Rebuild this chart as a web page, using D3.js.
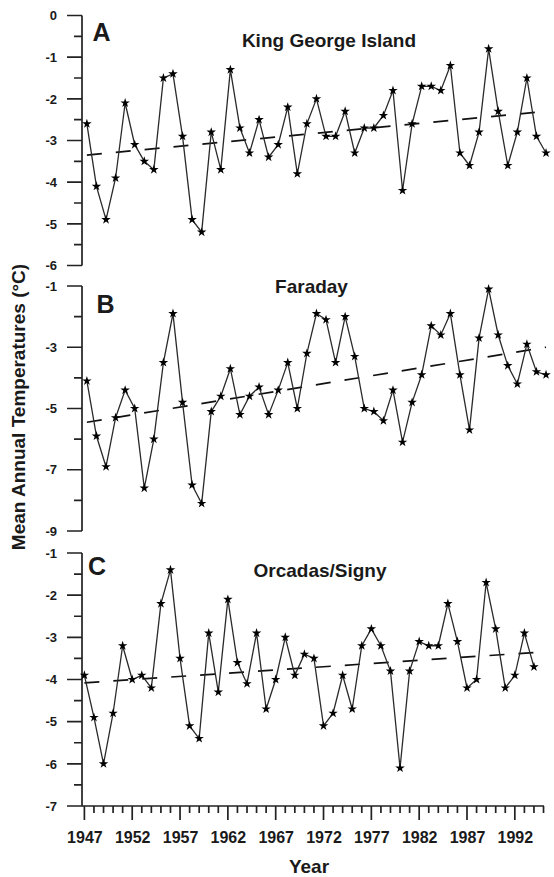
<!DOCTYPE html>
<html>
<head>
<meta charset="utf-8">
<script src="https://cdn.jsdelivr.net/npm/d3@7"></script>
<style>
  body { margin: 0; background: #fff; }
  svg text { font-family: "Liberation Sans", Arial, sans-serif; font-weight: bold; fill: #1a1a1a; }
</style>
</head>
<body>
<div id="chart"></div>
<script>
// first year of every series
const startYear = 1947;

// A - King George Island, mean annual temperature (°C)
const kingGeorge = [-2.6, -4.1, -4.9, -3.9, -2.1, -3.1, -3.5, -3.7, -1.5, -1.4,
  -2.9, -4.9, -5.2, -2.8, -3.7, -1.3, -2.7, -3.3, -2.5, -3.4,
  -3.1, -2.2, -3.8, -2.6, -2.0, -2.9, -2.9, -2.3, -3.3, -2.7,
  -2.7, -2.4, -1.8, -4.2, -2.6, -1.7, -1.7, -1.8, -1.2, -3.3,
  -3.6, -2.8, -0.8, -2.3, -3.6, -2.8, -1.5, -2.9, -3.3];

// B - Faraday
const faraday = [-4.1, -5.9, -6.9, -5.3, -4.4, -5.0, -7.6, -6.0, -3.5, -1.9,
  -4.8, -7.5, -8.1, -5.1, -4.6, -3.7, -5.2, -4.6, -4.3, -5.2,
  -4.4, -3.5, -5.0, -3.2, -1.9, -2.1, -3.5, -2.0, -3.3, -5.0,
  -5.1, -5.4, -4.4, -6.1, -4.8, -3.9, -2.3, -2.6, -1.9, -3.9,
  -5.7, -2.7, -1.1, -2.6, -3.6, -4.2, -2.9, -3.8, -3.9];

// C - Orcadas/Signy
const orcadas = [-3.9, -4.9, -6.0, -4.8, -3.2, -4.0, -3.9, -4.2, -2.2, -1.4,
  -3.5, -5.1, -5.4, -2.9, -4.3, -2.1, -3.6, -4.1, -2.9, -4.7,
  -4.0, -3.0, -3.9, -3.4, -3.5, -5.1, -4.8, -3.9, -4.7, -3.2,
  -2.8, -3.2, -3.8, -6.1, -3.8, -3.1, -3.2, -3.2, -2.2, -3.1,
  -4.2, -4.0, -1.7, -2.8, -4.2, -3.9, -2.9, -3.7];

// linear trend end points [year, value]
const trendKingGeorge = [[1947, -3.35], [1995, -2.3]];
const trendFaraday = [[1947, -5.45], [1995, -3.0]];
const trendOrcadas = [[1947, -4.08], [1994, -3.36]];

// tick labels
const yearTicks = [1947, 1952, 1957, 1962, 1967, 1972, 1977, 1982, 1987, 1992];
const yearMinor = [1948, 1949, 1950, 1951, 1953, 1954, 1955, 1956, 1958, 1959, 1960, 1961,
  1963, 1964, 1965, 1966, 1968, 1969, 1970, 1971, 1973, 1974, 1975, 1976, 1978, 1979, 1980, 1981,
  1983, 1984, 1985, 1986, 1988, 1989, 1990, 1991, 1993, 1994, 1995];
const ticksA = [0, -1, -2, -3, -4, -5, -6];
const minorA = [-0.5, -1.5, -2.5, -3.5, -4.5, -5.5];
const ticksB = [-1, -3, -5, -7, -9];
const minorB = [-2, -4, -6, -8];
const ticksC = [-1, -2, -3, -4, -5, -6, -7];
const minorC = [-1.5, -2.5, -3.5, -4.5, -5.5, -6.5];

const width = 554, height = 877;
const axisColor = '#222';

const svg = d3.select('#chart').append('svg')
    .attr('width', width)
    .attr('height', height)
    .style('display', 'block');

// shared year scale (bottom axis belongs to panel C)
const x = d3.scaleLinear().domain([1946.75, 1995.05]).range([82, 544]);
// the two upper panels sit a touch to the right in the original
const xTop = x.copy().range([84.5, 546.5]);
const axisX = x.range()[0];

const panels = [
    { letter: 'A', title: 'King George Island', values: kingGeorge, trend: trendKingGeorge,
      x: xTop, y: d3.scaleLinear().domain([-6, 0]).range([265.5, 15.5]),
      ticks: ticksA, minor: minorA, letterPos: [92.5, 41], titlePos: [329, 46.5] },
    { letter: 'B', title: 'Faraday', values: faraday, trend: trendFaraday,
      x: xTop, y: d3.scaleLinear().domain([-9, -1]).range([531, 286]),
      ticks: ticksB, minor: minorB, letterPos: [96.5, 313], titlePos: [311.5, 293] },
    { letter: 'C', title: 'Orcadas/Signy', values: orcadas, trend: trendOrcadas,
      x: x, y: d3.scaleLinear().domain([-7, -1]).range([806, 553]),
      ticks: ticksC, minor: minorC, letterPos: [88, 575], titlePos: [320, 576.5] }
];

const star = d3.symbol().type(d3.symbolStar).size(28);

panels.forEach(p => {
    const g = svg.append('g');
    const data = p.values.map((v, i) => ({ year: startYear + i, value: v }));

    // y axis labels (d3 axis, no tick lines)
    const yAxis = g.append('g')
        .attr('transform', `translate(${axisX},0)`)
        .call(d3.axisLeft(p.y).tickValues(p.ticks).tickSize(0).tickSizeOuter(0)
            .tickPadding(25).tickFormat(d => String(d)));
    yAxis.selectAll('text').style('font-size', '13px').attr('fill', null);
    yAxis.select('.domain').remove();

    // axis line and tick marks as one path
    const yPath = d3.path();
    const [yBottom, yTopPx] = p.y.range();
    yPath.moveTo(axisX, yTopPx);
    yPath.lineTo(axisX, yBottom);
    p.ticks.forEach(t => { yPath.moveTo(axisX - 15, p.y(t)); yPath.lineTo(axisX, p.y(t)); });
    p.minor.forEach(t => { yPath.moveTo(axisX - 8, p.y(t)); yPath.lineTo(axisX, p.y(t)); });
    g.append('path')
        .attr('d', yPath.toString())
        .attr('fill', 'none')
        .attr('stroke', axisColor)
        .attr('stroke-width', 1.7);

    // trend line
    g.append('path')
        .datum(p.trend)
        .attr('d', d3.line().x(d => p.x(d[0])).y(d => p.y(d[1])))
        .attr('fill', 'none')
        .attr('stroke', '#111')
        .attr('stroke-width', 1.7)
        .attr('stroke-dasharray', '15,14');

    // data line
    g.append('path')
        .datum(data)
        .attr('d', d3.line().x(d => p.x(d.year)).y(d => p.y(d.value)))
        .attr('fill', 'none')
        .attr('stroke', '#2a2a2a')
        .attr('stroke-width', 1.3);

    // stars
    g.selectAll('.star')
        .data(data)
        .enter()
        .append('path')
        .attr('class', 'star')
        .attr('d', star)
        .attr('transform', d => `translate(${p.x(d.year)},${p.y(d.value)})`)
        .attr('fill', '#000');

    // panel letter + station name
    g.append('text')
        .attr('x', p.letterPos[0])
        .attr('y', p.letterPos[1])
        .style('font-size', '25px')
        .text(p.letter);

    g.append('text')
        .attr('x', p.titlePos[0])
        .attr('y', p.titlePos[1])
        .attr('text-anchor', 'middle')
        .style('font-size', '19px')
        .text(p.title);
});

// x axis at the bottom of panel C
const bottomY = panels[2].y.range()[0];

const xAxis = svg.append('g')
    .attr('transform', `translate(0,${bottomY})`)
    .call(d3.axisBottom(x).tickValues(yearTicks).tickSize(0).tickSizeOuter(0)
        .tickPadding(26).tickFormat(d3.format('d')));
xAxis.selectAll('text').style('font-size', '16px').attr('fill', null);
xAxis.select('.domain').remove();

const xPath = d3.path();
xPath.moveTo(x.range()[0], bottomY);
xPath.lineTo(x.range()[1], bottomY);
yearTicks.forEach(t => { xPath.moveTo(x(t), bottomY); xPath.lineTo(x(t), bottomY + 14); });
yearMinor.forEach(t => { xPath.moveTo(x(t), bottomY); xPath.lineTo(x(t), bottomY + 7); });
svg.append('path')
    .attr('d', xPath.toString())
    .attr('fill', 'none')
    .attr('stroke', axisColor)
    .attr('stroke-width', 1.7);

// axis titles
svg.append('text')
    .attr('transform', 'translate(25,407) rotate(-90)')
    .attr('text-anchor', 'middle')
    .style('font-size', '19px')
    .text('Mean Annual Temperatures (°C)');

svg.append('text')
    .attr('x', 309)
    .attr('y', 873)
    .attr('text-anchor', 'middle')
    .style('font-size', '19px')
    .text('Year');
</script>
</body>
</html>
